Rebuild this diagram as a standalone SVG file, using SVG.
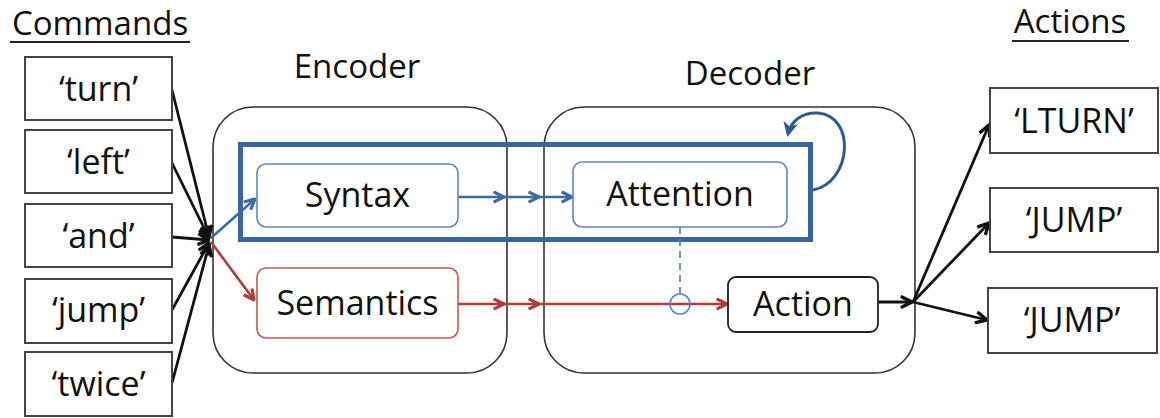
<svg xmlns="http://www.w3.org/2000/svg" width="1160" height="418" viewBox="0 0 1160 418">
  <style>
    text { font-family: "Open Sans", "Noto Sans", sans-serif; fill: #111; text-anchor: middle; }
    .hdr { font-size: 33px; }
    .lbl { font-size: 34px; }
    .word { fill: #fff; stroke: #444; stroke-width: 2; }
    .module { fill: #fff; stroke: #333; stroke-width: 1.6; }
    .blue-box { fill: #fff; stroke: #5b86c4; stroke-width: 1.6; }
    .red-box { fill: #fff; stroke: #c95555; stroke-width: 1.6; }
    .black-box { fill: #fff; stroke: #222; stroke-width: 1.8; }
    .k { stroke: #111; stroke-width: 2.8; fill: none; }
    .b { stroke: #3a6aa8; stroke-width: 2.6; fill: none; }
    .r { stroke: #b33a3a; stroke-width: 2.6; fill: none; }
  </style>
  <defs>
    <marker id="ak" viewBox="0 0 10 10" refX="9" refY="5" markerWidth="5" markerHeight="5" orient="auto" markerUnits="strokeWidth">
      <path d="M1,1 L9,5 L1,9" fill="none" stroke="#111" stroke-width="2.4" stroke-linejoin="miter"/>
    </marker>
    <marker id="ab" viewBox="0 0 10 10" refX="9" refY="5" markerWidth="5" markerHeight="5" orient="auto" markerUnits="strokeWidth">
      <path d="M1,1 L9,5 L1,9" fill="none" stroke="#3a6aa8" stroke-width="2.4"/>
    </marker>
    <marker id="ar" viewBox="0 0 10 10" refX="9" refY="5" markerWidth="5" markerHeight="5" orient="auto" markerUnits="strokeWidth">
      <path d="M1,1 L9,5 L1,9" fill="none" stroke="#b33a3a" stroke-width="2.4"/>
    </marker>
    <marker id="aloop" viewBox="0 0 10 10" refX="8" refY="5" markerWidth="5" markerHeight="5" orient="auto" markerUnits="strokeWidth">
      <path d="M0,0 L10,5 L0,10 L3,5 Z" fill="#2d5a96"/>
    </marker>
  </defs>

  <!-- column headings -->
  <g id="heading-commands">
    <text class="hdr" x="100" y="35">Commands</text>
    <line x1="10" y1="42" x2="190" y2="42" stroke="#222" stroke-width="2"/>
  </g>
  <g id="heading-actions">
    <text class="hdr" x="1070" y="33">Actions</text>
    <line x1="1012" y1="41" x2="1129" y2="41" stroke="#222" stroke-width="2"/>
  </g>

  <!-- encoder / decoder modules -->
  <g id="encoder">
    <rect class="module" x="213" y="107" width="294" height="266" rx="40"/>
    <text class="hdr" x="357" y="78">Encoder</text>
  </g>
  <g id="decoder">
    <rect class="module" x="544" y="107" width="371" height="266" rx="40"/>
    <text class="hdr" x="750" y="85">Decoder</text>
  </g>

  <!-- recurrent syntax/attention block -->
  <g id="syntax-block">
    <rect x="240.5" y="144.5" width="570" height="95" fill="none" stroke="#3565a5" stroke-width="5"/>
  </g>

  <g id="connectors">
    <!-- command words into the encoder -->
    <line class="k" x1="172" y1="90" x2="209" y2="237" marker-end="url(#ak)"/>
    <line class="k" x1="172" y1="163" x2="209" y2="238" marker-end="url(#ak)"/>
    <line class="k" x1="172" y1="237" x2="209" y2="240" marker-end="url(#ak)"/>
    <line class="k" x1="172" y1="310" x2="209" y2="243" marker-end="url(#ak)"/>
    <line class="k" x1="172" y1="383" x2="209" y2="245" marker-end="url(#ak)"/>
    <!-- split into syntax and semantics -->
    <line class="b" x1="211" y1="238" x2="255" y2="199" marker-end="url(#ab)"/>
    <line class="r" x1="211" y1="242" x2="254" y2="300" marker-end="url(#ar)"/>
    <!-- syntax to attention -->
    <line class="b" x1="458" y1="197" x2="504" y2="197" marker-end="url(#ab)"/>
    <line class="b" x1="504" y1="197" x2="539" y2="197" marker-end="url(#ab)"/>
    <line class="b" x1="539" y1="197" x2="572" y2="197" marker-end="url(#ab)"/>
    <!-- semantics to action -->
    <line class="r" x1="458" y1="304" x2="504" y2="304" marker-end="url(#ar)"/>
    <line class="r" x1="504" y1="304" x2="539" y2="304" marker-end="url(#ar)"/>
    <line class="r" x1="539" y1="304" x2="727" y2="304" marker-end="url(#ar)"/>
    <!-- attention gate -->
    <line x1="680" y1="227" x2="680" y2="294" stroke="#4a78b8" stroke-width="1.6" stroke-dasharray="7,5"/>
    <circle cx="680" cy="304" r="10" fill="none" stroke="#5b86c4" stroke-width="1.6"/>
    <!-- recurrence loop -->
    <path d="M813 190 C852 182 856 116 818 113 C802 112 791 121 788 134" fill="none" stroke="#2d5a96" stroke-width="3" marker-end="url(#aloop)"/>
    <!-- action outputs -->
    <line class="k" x1="878" y1="302" x2="912" y2="302" marker-end="url(#ak)"/>
    <line class="k" x1="913" y1="302" x2="989" y2="125" marker-end="url(#ak)"/>
    <line class="k" x1="913" y1="302" x2="989" y2="223" marker-end="url(#ak)"/>
    <line class="k" x1="913" y1="302" x2="987" y2="320" marker-end="url(#ak)"/>
  </g>

  <!-- command words -->
  <g id="cmd-turn"><rect class="word" x="25" y="57" width="147" height="63"/><text class="lbl" x="98.5" y="101">‘turn’</text></g>
  <g id="cmd-left"><rect class="word" x="25" y="130" width="147" height="63"/><text class="lbl" x="98.5" y="174">‘left’</text></g>
  <g id="cmd-and"><rect class="word" x="25" y="204" width="147" height="63"/><text class="lbl" x="98.5" y="248">‘and’</text></g>
  <g id="cmd-jump"><rect class="word" x="25" y="279" width="147" height="64"/><text class="lbl" x="98.5" y="322">‘jump’</text></g>
  <g id="cmd-twice"><rect class="word" x="25" y="352" width="147" height="64"/><text class="lbl" x="98.5" y="396">‘twice’</text></g>

  <!-- inner modules -->
  <g id="syntax"><rect class="blue-box" x="257" y="164" width="201" height="63" rx="9"/><text class="lbl" x="357.5" y="207">Syntax</text></g>
  <g id="semantics"><rect class="red-box" x="257" y="268" width="201" height="70" rx="9"/><text class="lbl" x="357.5" y="315">Semantics</text></g>
  <g id="attention"><rect class="blue-box" x="573" y="162" width="214" height="65" rx="9"/><text class="lbl" x="680" y="206">Attention</text></g>
  <g id="action"><rect class="black-box" x="728" y="277" width="150" height="55" rx="8"/><text class="lbl" x="803" y="316">Action</text></g>

  <!-- output actions -->
  <g id="act-lturn"><rect class="word" x="990" y="88" width="168" height="65"/><text class="lbl" x="1074" y="133">‘LTURN’</text></g>
  <g id="act-jump1"><rect class="word" x="990" y="188" width="168" height="64"/><text class="lbl" x="1074" y="232">‘JUMP’</text></g>
  <g id="act-jump2"><rect class="word" x="988" y="288" width="169" height="65"/><text class="lbl" x="1072" y="332">‘JUMP’</text></g>
</svg>
